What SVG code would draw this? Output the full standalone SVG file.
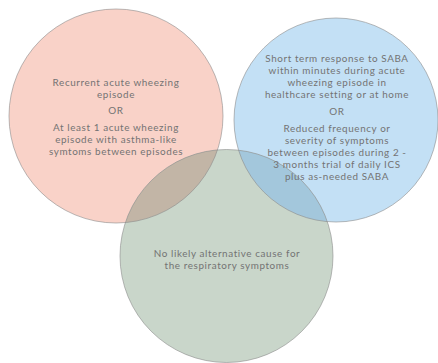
<svg xmlns="http://www.w3.org/2000/svg" width="438" height="363" viewBox="0 0 438 363">
<style>
.t{font-family:Lato,"Open Sans",sans-serif;font-size:9.9px;letter-spacing:0.6px;fill:#737373;text-anchor:middle}
.o{fill:none;stroke:#8c8c8c;stroke-width:0.6}
</style>
<defs>
<clipPath id="cg"><circle cx="226.5" cy="256" r="106.5"/></clipPath>
</defs>
<rect width="438" height="363" fill="#ffffff"/>
<g id="red-circle">
<circle cx="116" cy="116" r="107" fill="#f9d2c8"/>
</g>
<g id="blue-circle">
<circle cx="336" cy="120" r="102" fill="#c3e0f5"/>
</g>
<g id="green-circle">
<circle cx="226.5" cy="256" r="106.5" fill="#c9d6ca"/>
</g>
<g id="overlaps" clip-path="url(#cg)">
<circle cx="116" cy="116" r="107" fill="#c2b5a6"/>
<circle cx="336" cy="120" r="102" fill="#a3c7dc"/>
</g>
<g id="outlines">
<circle class="o" cx="116" cy="116" r="107"/>
<circle class="o" cx="336" cy="120" r="102"/>
<circle class="o" cx="226.5" cy="256" r="106.5"/>
</g>
<g id="red-text">
<text class="t"><tspan x="116" y="85.5">Recurrent acute wheezing</tspan><tspan x="116" y="97.5">episode</tspan><tspan x="116" y="113.5">OR</tspan><tspan x="116" y="130.5">At least 1 acute wheezing</tspan><tspan x="116" y="142.5">episode with asthma-like</tspan><tspan x="116" y="154.5">symtoms between episodes</tspan></text>
</g>
<g id="blue-text">
<text class="t"><tspan x="337" y="61.5">Short term response to SABA</tspan><tspan x="337" y="73.5">within minutes during acute</tspan><tspan x="337" y="85.5">wheezing episode in</tspan><tspan x="337" y="97.5">healthcare setting or at home</tspan><tspan x="337" y="114.5">OR</tspan><tspan x="337" y="131.5">Reduced frequency or</tspan><tspan x="337" y="143.5">severity of symptoms</tspan><tspan x="337" y="155.5">between episodes during 2 -</tspan><tspan x="337" y="167.5">3 months trial of daily ICS</tspan><tspan x="337" y="179.5">plus as-needed SABA</tspan></text>
</g>
<g id="green-text">
<text class="t"><tspan x="227" y="256.5">No likely alternative cause for</tspan><tspan x="227" y="268.5">the respiratory symptoms</tspan></text>
</g>
</svg>
